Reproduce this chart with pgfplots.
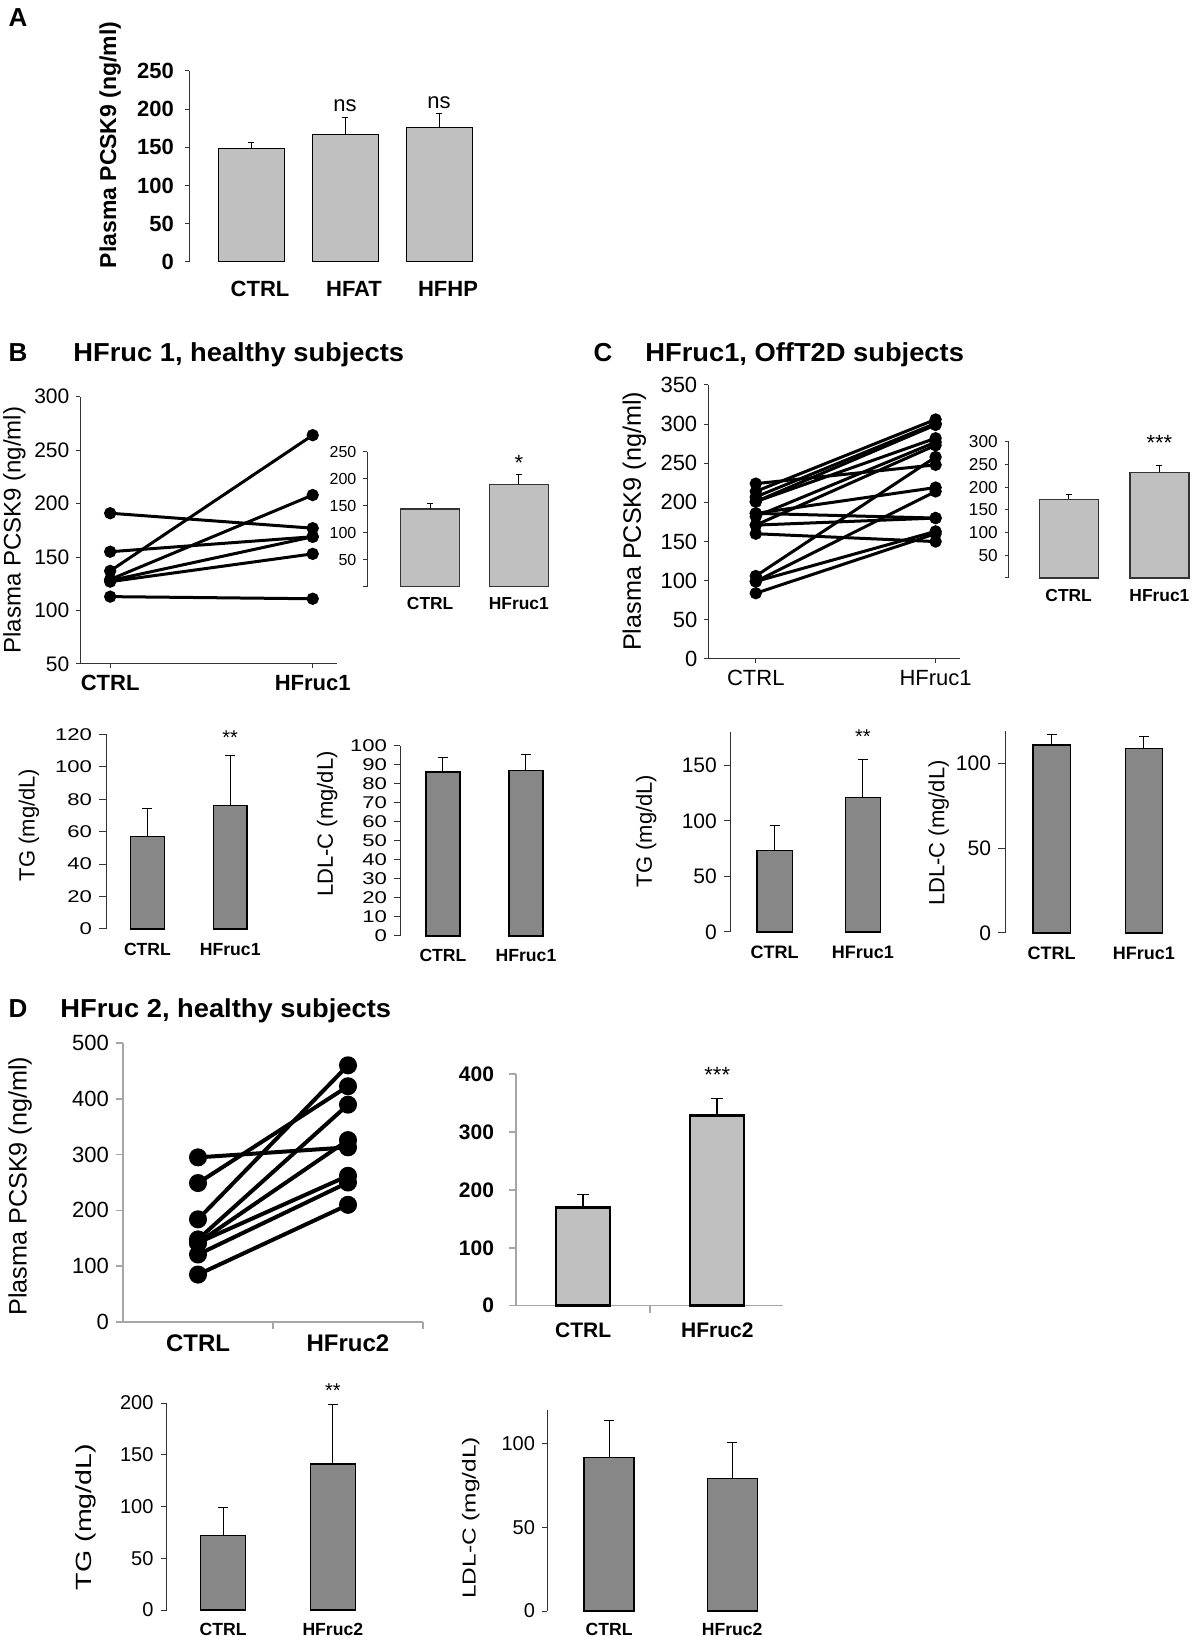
\documentclass[border=0pt]{standalone}
\usepackage{fontspec}
\setmainfont{Liberation Sans}
\newfontfamily\titlef[FakeStretch=1.05]{Liberation Sans}
\newfontfamily\tallf[FakeStretch=1.3]{Liberation Sans}
\newfontfamily\widef[FakeStretch=1.3]{Liberation Sans}
\usepackage{pgfplots}
\pgfplotsset{compat=1.18}
\definecolor{lbar}{HTML}{C0C0C0}
\definecolor{dbar}{HTML}{878787}
\definecolor{axgray}{HTML}{A6A6A6}
\newcommand{\fs}[1]{\fontsize{#1}{#1}\selectfont}
\pgfplotsset{
  /pgf/number format/assume math mode=true,
  panel/.style={scale only axis, clip=false, axis lines*=left, tick align=outside,
     anchor=south west, axis line style={black!80, line width=0.5pt}, tick style={black!80, line width=0.5pt},
     major tick length=2pt, ylabel style={anchor=center}},
  barpanel/.style={panel, ybar, bar width=#1, x axis line style={draw=none}, xtick style={draw=none}, xtick={0,1}, ymin=0},
  pairline/.style={black, line width=1.5pt, mark=*, mark size=2.3pt, mark options={solid, fill=black}},
  errb/.style={error bars/y dir=plus, error bars/y explicit, error bars/error bar style={black, line width=0.5pt},
     error bars/error mark options={rotate=90, black, mark size=#1, line width=0.5pt}},
}
\begin{document}
\begin{tikzpicture}
\useasboundingbox (0,0) rectangle (600pt,818.5pt);
% panel labels and titles
\node[font=\bfseries\fs{13}, anchor=base] at (9pt,805pt) {A};
\node[font=\bfseries\fs{13}, anchor=base] at (9pt,637.5pt) {B};
\node[font=\titlef\bfseries\fs{13}, anchor=base west, inner sep=0pt] at (36.5pt,637.5pt) {HFruc 1, healthy subjects};
\node[font=\bfseries\fs{13}, anchor=base] at (301.5pt,637.5pt) {C};
\node[font=\titlef\bfseries\fs{13}, anchor=base west, inner sep=0pt] at (322.5pt,637.5pt) {HFruc1, OffT2D subjects};
\node[font=\bfseries\fs{13}, anchor=base] at (9pt,309.5pt) {D};
\node[font=\titlef\bfseries\fs{13}, anchor=base west, inner sep=0pt] at (30pt,309.5pt) {HFruc 2, healthy subjects};

% ---------------- A
\begin{axis}[barpanel=33pt, at={(94.5pt,687.5pt)}, width=145.5pt, height=95.5pt,
  xmin=-0.66, xmax=2.436, ymax=250, ytick={0,50,...,250}, xtick={0,1,2}, xticklabels={CTRL,HFAT,HFHP},
  yticklabel style={font=\bfseries\fs{11}, xshift=-2pt},
  xticklabel style={font=\bfseries\fs{11}, xshift=4.5pt, yshift=-4pt},
  ylabel={Plasma PCSK9 (ng/ml)}, ylabel style={font=\bfseries\fs{11.5}, at={(axis description cs:-0.271,0.613)}}]
\addplot[fill=lbar, draw=black, line width=0.5pt, errb=1.3pt] coordinates {(0,148) +- (0,8.6) (1,167.5) +- (0,21.5) (2,176) +- (0,18)};
\node[font=\fs{11}] at (axis cs:1,204) {ns};
\node[font=\fs{11}] at (axis cs:2,208) {ns};
\end{axis}

% ---------------- B line
\begin{axis}[panel, at={(40.2pt,486.5pt)}, width=128.2pt, height=133.65pt,
  xmin=-0.147, xmax=1.119, ymin=50, ymax=300, ytick={50,100,...,300}, xtick={0,1}, xticklabels={CTRL,HFruc1},
  yticklabel style={font=\fs{10.5}},
  xticklabel style={font=\bfseries\fs{11}},
  ylabel={Plasma PCSK9 (ng/ml)}, ylabel style={font=\fs{12}, at={(axis description cs:-0.257,0.501)}}]
\addplot[pairline] coordinates {(0,191) (1,177)};
\addplot[pairline] coordinates {(0,155) (1,169)};
\addplot[pairline] coordinates {(0,137) (1,264)};
\addplot[pairline] coordinates {(0,129) (1,208)};
\addplot[pairline] coordinates {(0,128) (1,169)};
\addplot[pairline] coordinates {(0,127) (1,153)};
\addplot[pairline] coordinates {(0,113) (1,111)};
\end{axis}

% ---------------- B inset
\begin{axis}[barpanel=29.25pt, at={(183.7pt,525.15pt)}, width=98.8pt, height=67.5pt,
  xmin=-0.707, xmax=1.52, ymax=250, ytick={0,50,...,250}, yticklabels={,50,100,150,200,250}, xticklabels={CTRL,HFruc1},
  yticklabel style={font=\fs{8}}, xticklabel style={font=\bfseries\fs{8.7}}]
\addplot[fill=lbar, draw=black!80, line width=0.6pt, errb=1.5pt] coordinates {(0,144) +- (0,10) (1,189.5) +- (0,18.5)};
\node[font=\fs{11}] at (axis cs:1,230) {*};
\end{axis}

% ---------------- C line
\begin{axis}[panel, at={(354.15pt,489pt)}, width=125.7pt, height=137pt,
  xmin=-0.264, xmax=1.134, ymin=0, ymax=350, ytick={0,50,...,350}, xtick={0,1}, xticklabels={CTRL,HFruc1},
  yticklabel style={font=\fs{11}},
  xticklabel style={font=\fs{11}},
  ylabel={Plasma PCSK9 (ng/ml)}, ylabel style={font=\fs{12.6}, at={(axis description cs:-0.294,0.502)}}]
\addplot[pairline] coordinates {(0,224) (1,248)};
\addplot[pairline] coordinates {(0,214) (1,306)};
\addplot[pairline] coordinates {(0,207) (1,301)};
\addplot[pairline] coordinates {(0,201) (1,299)};
\addplot[pairline] coordinates {(0,201) (1,282)};
\addplot[pairline] coordinates {(0,186) (1,219)};
\addplot[pairline] coordinates {(0,186) (1,180)};
\addplot[pairline] coordinates {(0,182) (1,277)};
\addplot[pairline] coordinates {(0,171) (1,273)};
\addplot[pairline] coordinates {(0,171) (1,180)};
\addplot[pairline] coordinates {(0,160) (1,150)};
\addplot[pairline] coordinates {(0,106) (1,258)};
\addplot[pairline] coordinates {(0,99) (1,214)};
\addplot[pairline] coordinates {(0,99) (1,163)};
\addplot[pairline] coordinates {(0,84) (1,160)};
\end{axis}

% ---------------- C inset
\begin{axis}[barpanel=29.5pt, at={(504.35pt,529.5pt)}, width=93.15pt, height=68pt,
  xmin=-0.66, xmax=1.392, ymax=300, ytick={0,50,...,300}, yticklabels={,50,100,150,200,250,300}, xticklabels={CTRL,HFruc1},
  yticklabel style={font=\fs{8.6}}, xticklabel style={font=\bfseries\fs{8.7}}]
\addplot[fill=lbar, draw=black!80, line width=0.6pt, errb=1.5pt] coordinates {(0,173.4) +- (0,10.6) (1,233.4) +- (0,14.6)};
\node[font=\fs{11}] at (axis cs:1,298) {***};
\end{axis}

% ---------------- B TG
\begin{axis}[barpanel=16.85pt, at={(53pt,354pt)}, width=79.5pt, height=97.35pt,
  xmin=-0.501, xmax=1.42, ymax=120, ytick={0,20,...,120}, xticklabels={CTRL,HFruc1}, major tick length=3.5pt,
  yticklabel style={font=\widef\fs{8.5}}, xticklabel style={font=\bfseries\fs{8.8}},
  ylabel={TG (mg/dL)}, ylabel style={font=\fs{11}, at={(axis description cs:-0.484,0.534)}}]
\addplot[fill=dbar, draw=black, line width=0.6pt, errb=2.5pt] coordinates {(0,57) +- (0,17) (1,76) +- (0,30.8)};
\node[font=\fs{10}] at (axis cs:1,118) {**};
\end{axis}

% ---------------- B LDL
\begin{axis}[barpanel=17pt, at={(200pt,350.5pt)}, width=82.5pt, height=95pt,
  xmin=-0.518, xmax=1.47, ymax=100, ytick={0,10,...,100}, xticklabels={CTRL,HFruc1}, major tick length=3pt,
  yticklabel style={font=\widef\fs{8.5}}, xticklabel style={font=\bfseries\fs{8.8}},
  ylabel={LDL-C (mg/dL)}, ylabel style={font=\fs{11}, at={(axis description cs:-0.442,0.589)}}]
\addplot[fill=dbar, draw=black, line width=0.6pt, errb=2.5pt] coordinates {(0,86.3) +- (0,7.7) (1,87.2) +- (0,8.2)};
\end{axis}

% ---------------- C TG
\begin{axis}[barpanel=17.75pt, at={(365.45pt,352.5pt)}, width=84.5pt, height=100pt,
  xmin=-0.496, xmax=1.42, ymax=180, ytick={0,50,100,150}, xticklabels={CTRL,HFruc1}, major tick length=3.5pt,
  yticklabel style={font=\fs{10.5}}, xticklabel style={font=\bfseries\fs{9}},
  ylabel={TG (mg/dL)}, ylabel style={font=\fs{11}, at={(axis description cs:-0.502,0.505)}}]
\addplot[fill=dbar, draw=black, line width=0.6pt, errb=2.5pt] coordinates {(0,73.2) +- (0,22.7) (1,121.3) +- (0,34)};
\node[font=\fs{10}] at (axis cs:1,176) {**};
\end{axis}

% ---------------- C LDL
\begin{axis}[barpanel=18.6pt, at={(502.5pt,352pt)}, width=87.5pt, height=101pt,
  xmin=-0.504, xmax=1.39, ymax=119, ytick={0,50,100}, xticklabels={CTRL,HFruc1}, major tick length=3.5pt,
  yticklabel style={font=\fs{10.5}}, xticklabel style={font=\bfseries\fs{9}},
  ylabel={LDL-C (mg/dL)}, ylabel style={font=\fs{11}, at={(axis description cs:-0.379,0.495)}}]
\addplot[fill=dbar, draw=black, line width=0.6pt, errb=2.5pt] coordinates {(0,110.8) +- (0,6.2) (1,108.8) +- (0,7.2)};
\end{axis}

% ---------------- D line
\begin{axis}[panel, at={(61.5pt,157.5pt)}, width=150pt, height=139.5pt,
  xmin=-0.5, xmax=1.5, ymin=0, ymax=500, ytick={0,100,...,500},
  axis line style={axgray, line width=0.8pt}, tick style={axgray, line width=0.8pt}, major tick length=3.5pt,
  xtick={0.5,1.5}, xticklabels={}, extra x ticks={0,1}, extra x tick labels={CTRL,HFruc2},
  extra x tick style={major tick length=0pt, xticklabel style={font=\bfseries\fs{12}, yshift=-3pt}},
  yticklabel style={font=\fs{11}},
  ylabel={Plasma PCSK9 (ng/ml)}, ylabel style={font=\fs{12.6}, at={(axis description cs:-0.343,0.487)}}]
\pgfplotsset{pairline/.append style={line width=2pt, mark size=3.5pt}}
\addplot[pairline] coordinates {(0,295) (1,313)};
\addplot[pairline] coordinates {(0,249) (1,422.5)};
\addplot[pairline] coordinates {(0,184) (1,460)};
\addplot[pairline] coordinates {(0,148) (1,389.5)};
\addplot[pairline] coordinates {(0,142) (1,326)};
\addplot[pairline] coordinates {(0,142) (1,262)};
\addplot[pairline] coordinates {(0,121) (1,250)};
\addplot[pairline] coordinates {(0,85) (1,210)};
\end{axis}

% ---------------- D bar
\begin{axis}[panel, ybar, bar width=27pt, at={(258pt,165.65pt)}, width=133.5pt, height=115.85pt,
  xmin=-0.5, xmax=1.49, ymin=0, ymax=400, ytick={0,100,...,400},
  axis line style={axgray, line width=0.8pt}, tick style={axgray, line width=0.8pt}, major tick length=3.5pt,
  xtick={0.5,1.5}, xticklabels={}, extra x ticks={0,1}, extra x tick labels={CTRL,HFruc2},
  extra x tick style={major tick length=0pt, xticklabel style={font=\bfseries\fs{10.5}, yshift=-5pt}},
  yticklabel style={font=\bfseries\fs{10.5}, xshift=-4pt}]
\addplot[fill=lbar, draw=black, line width=1.2pt, errb=3pt, error bars/error bar style={black, line width=1pt}] coordinates {(0,169.8) +- (0,23) (1,328.6) +- (0,29.4)};
\node[font=\fs{11}] at (axis cs:1,398) {***};
\end{axis}

% ---------------- D TG
\begin{axis}[barpanel=22.5pt, at={(83.25pt,13.5pt)}, width=106.75pt, height=103.5pt,
  xmin=-0.516, xmax=1.43, ymax=200, ytick={0,50,...,200}, xticklabels={CTRL,HFruc2}, major tick length=3pt,
  yticklabel style={font=\fs{10}}, xticklabel style={font=\bfseries\fs{8.8}},
  ylabel={TG (mg/dL)}, ylabel style={font=\tallf\fs{11}, at={(axis description cs:-0.377,0.449)}}]
\addplot[fill=dbar, draw=black, line width=0.6pt, errb=2.5pt] coordinates {(0,72) +- (0,27.4) (1,141) +- (0,58)};
\node[font=\fs{10}] at (axis cs:1,212) {**};
\end{axis}

% ---------------- D LDL
\begin{axis}[barpanel=25pt, at={(273.5pt,13pt)}, width=121.5pt, height=100.5pt,
  xmin=-0.504, xmax=1.47, ymax=120, ytick={0,50,100}, xticklabels={CTRL,HFruc2}, major tick length=2.5pt,
  yticklabel style={font=\fs{10}}, xticklabel style={font=\bfseries\fs{8.8}},
  ylabel={LDL-C (mg/dL)}, ylabel style={font=\tallf\fs{9.4}, at={(axis description cs:-0.314,0.463)}}]
\addplot[fill=dbar, draw=black, line width=0.6pt, errb=2.5pt] coordinates {(0,91.7) +- (0,22.2) (1,78.9) +- (0,21.5)};
\end{axis}
\end{tikzpicture}
\end{document}
